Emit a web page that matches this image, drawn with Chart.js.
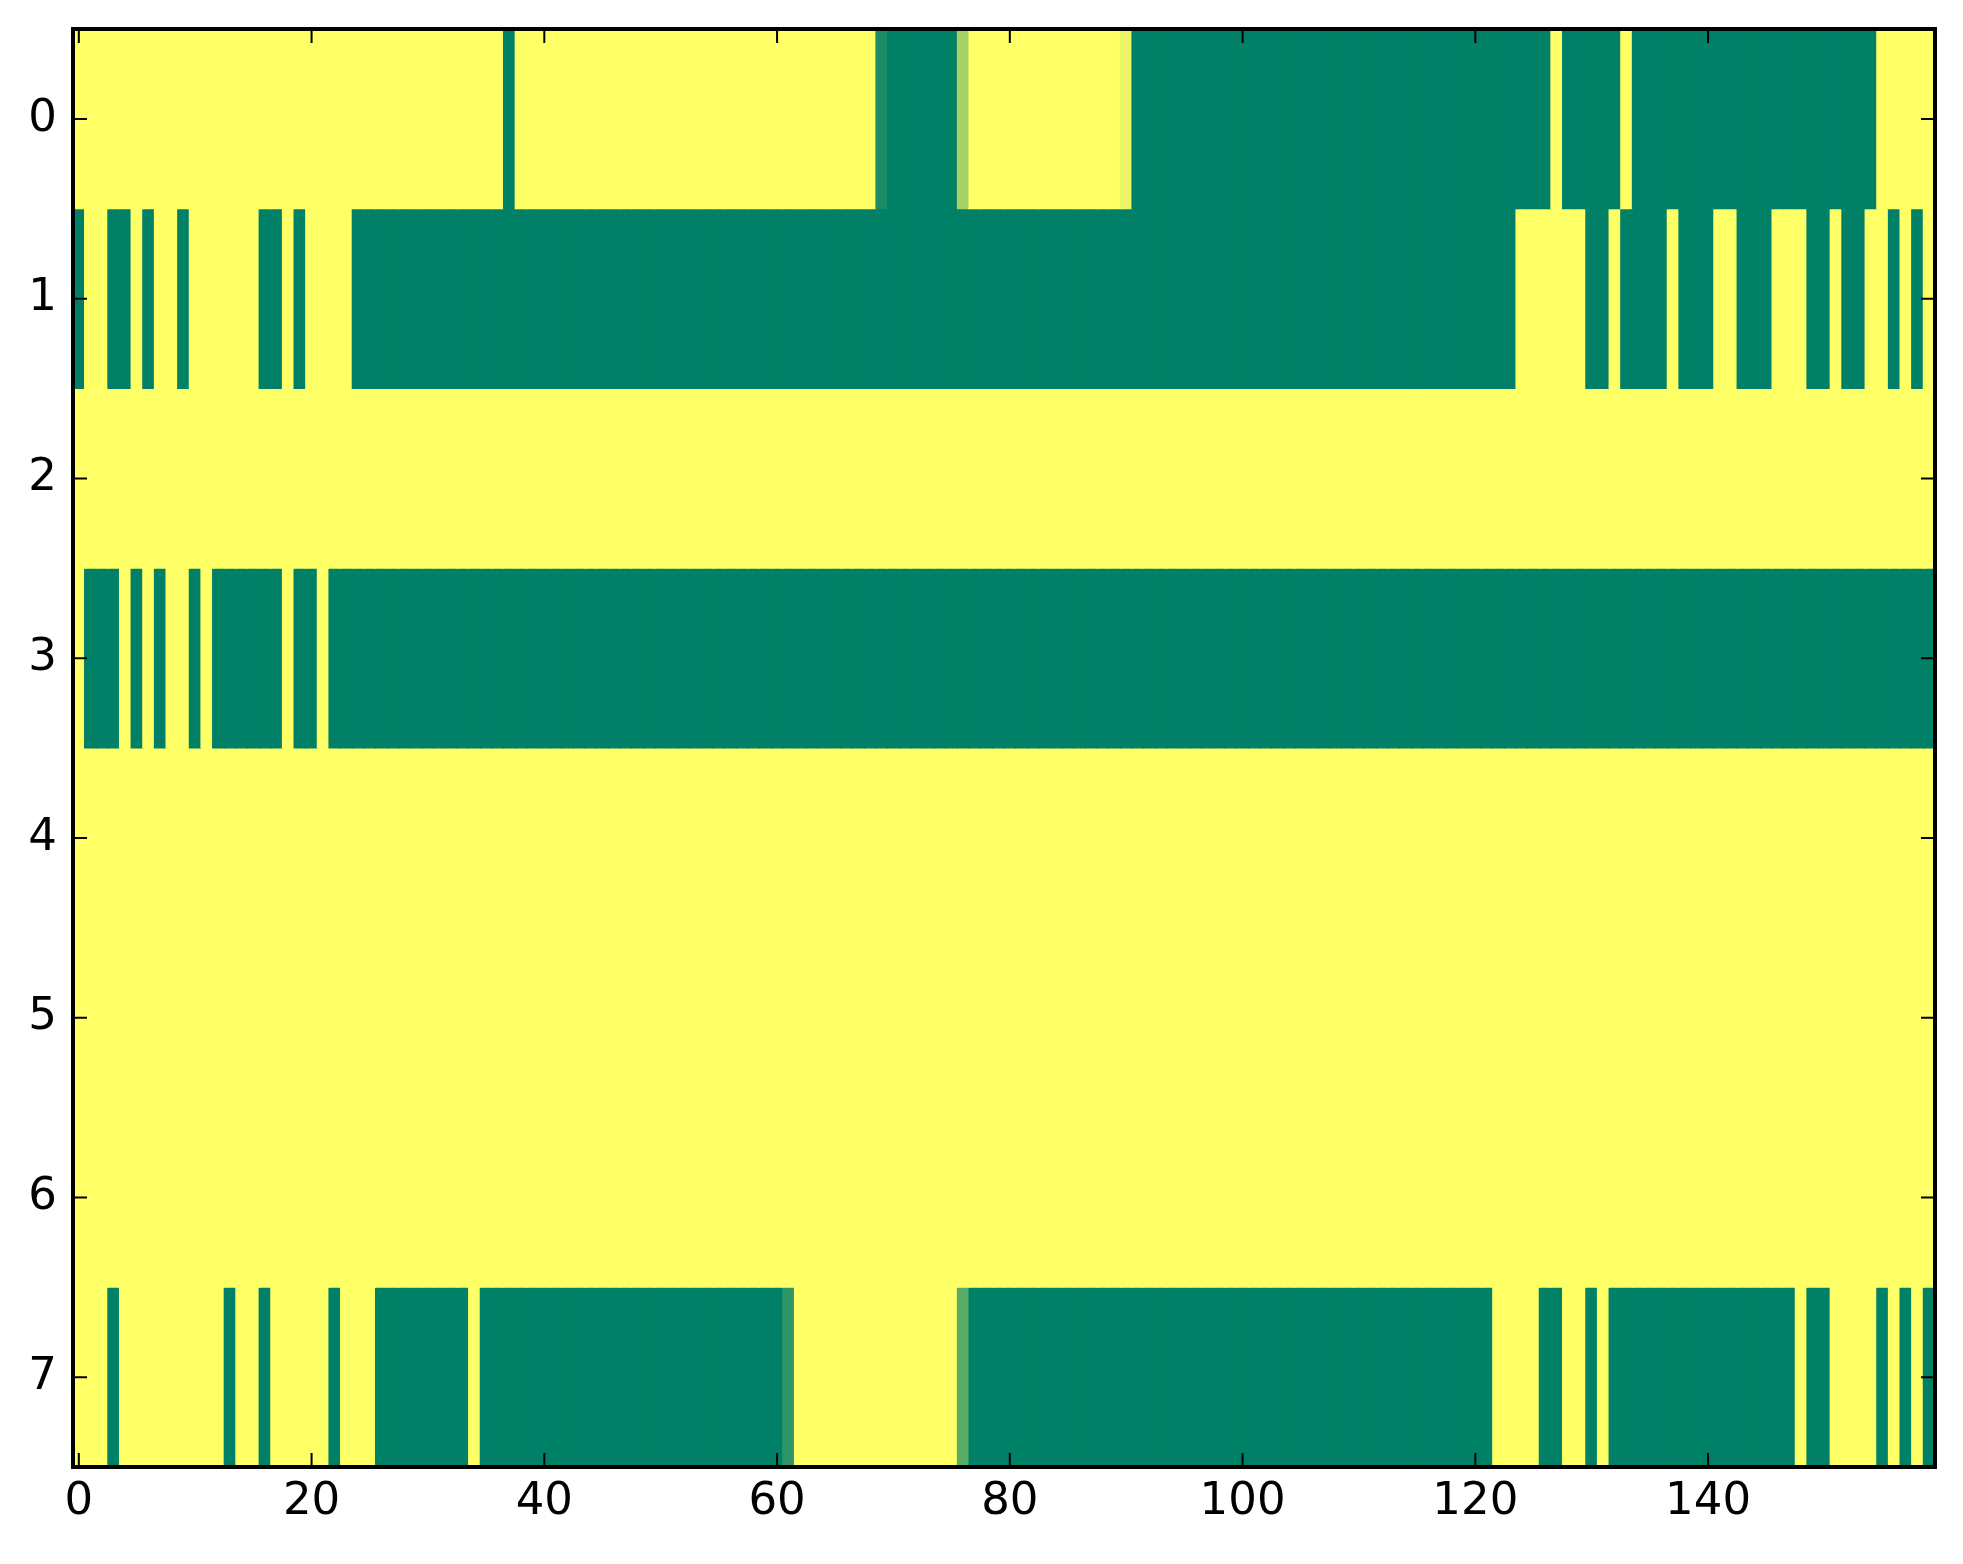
<!DOCTYPE html>
<html>
<head>
<meta charset="utf-8">
<script src="https://cdn.jsdelivr.net/npm/chart.js@4/dist/chart.umd.min.js"></script>
<style>
  html, body { margin: 0; padding: 0; background: #ffffff; }
  #c { display: block; }
</style>
</head>
<body>
<canvas id="c" width="1963" height="1564"></canvas>
<script>
// ---- data (0 = dark green, 1 = yellow) ----
const rowLabels = ['0', '1', '2', '3', '4', '5', '6', '7'];
const xTickValues = [0, 20, 40, 60, 80, 100, 120, 140];

const row0 = [
  1,1,1,1,1,1,1,1,1,1, 1,1,1,1,1,1,1,1,1,1,
  1,1,1,1,1,1,1,1,1,1, 1,1,1,1,1,1,1,0,1,1,
  1,1,1,1,1,1,1,1,1,1, 1,1,1,1,1,1,1,1,1,1,
  1,1,1,1,1,1,1,1,1,0.1, 0,0,0,0,0,0,0.65,1,1,1,
  1,1,1,1,1,1,1,1,1,1, 0.92,0,0,0,0,0,0,0,0,0,
  0,0,0,0,0,0,0,0,0,0, 0,0,0,0,0,0,0,0,0,0,
  0,0,0,0,0,0,0,1,0,0, 0,0,0,1,0,0,0,0,0,0,
  0,0,0,0,0,0,0,0,0,0, 0,0,0,0,0,1,1,1,1,1
];
const row1 = [
  0,1,1,0,0,1,0,1,1,0, 1,1,1,1,1,1,0,0,1,0,
  1,1,1,1,0,0,0,0,0,0, 0,0,0,0,0,0,0,0,0,0,
  0,0,0,0,0,0,0,0,0,0, 0,0,0,0,0,0,0,0,0,0,
  0,0,0,0,0,0,0,0,0,0, 0,0,0,0,0,0,0,0,0,0,
  0,0,0,0,0,0,0,0,0,0, 0,0,0,0,0,0,0,0,0,0,
  0,0,0,0,0,0,0,0,0,0, 0,0,0,0,0,0,0,0,0,0,
  0,0,0,0,1,1,1,1,1,1, 0,0,1,0,0,0,0,1,0,0,
  0,1,1,0,0,0,1,1,1,0, 0,1,0,0,1,1,0,1,0,1
];
const row2 = [
  1,1,1,1,1,1,1,1,1,1, 1,1,1,1,1,1,1,1,1,1,
  1,1,1,1,1,1,1,1,1,1, 1,1,1,1,1,1,1,1,1,1,
  1,1,1,1,1,1,1,1,1,1, 1,1,1,1,1,1,1,1,1,1,
  1,1,1,1,1,1,1,1,1,1, 1,1,1,1,1,1,1,1,1,1,
  1,1,1,1,1,1,1,1,1,1, 1,1,1,1,1,1,1,1,1,1,
  1,1,1,1,1,1,1,1,1,1, 1,1,1,1,1,1,1,1,1,1,
  1,1,1,1,1,1,1,1,1,1, 1,1,1,1,1,1,1,1,1,1,
  1,1,1,1,1,1,1,1,1,1, 1,1,1,1,1,1,1,1,1,1
];
const row3 = [
  1,0,0,0,1,0,1,0,1,1, 0,1,0,0,0,0,0,0,1,0,
  0,1,0,0,0,0,0,0,0,0, 0,0,0,0,0,0,0,0,0,0,
  0,0,0,0,0,0,0,0,0,0, 0,0,0,0,0,0,0,0,0,0,
  0,0,0,0,0,0,0,0,0,0, 0,0,0,0,0,0,0,0,0,0,
  0,0,0,0,0,0,0,0,0,0, 0,0,0,0,0,0,0,0,0,0,
  0,0,0,0,0,0,0,0,0,0, 0,0,0,0,0,0,0,0,0,0,
  0,0,0,0,0,0,0,0,0,0, 0,0,0,0,0,0,0,0,0,0,
  0,0,0,0,0,0,0,0,0,0, 0,0,0,0,0,0,0,0,0,0
];
const row4 = [
  1,1,1,1,1,1,1,1,1,1, 1,1,1,1,1,1,1,1,1,1,
  1,1,1,1,1,1,1,1,1,1, 1,1,1,1,1,1,1,1,1,1,
  1,1,1,1,1,1,1,1,1,1, 1,1,1,1,1,1,1,1,1,1,
  1,1,1,1,1,1,1,1,1,1, 1,1,1,1,1,1,1,1,1,1,
  1,1,1,1,1,1,1,1,1,1, 1,1,1,1,1,1,1,1,1,1,
  1,1,1,1,1,1,1,1,1,1, 1,1,1,1,1,1,1,1,1,1,
  1,1,1,1,1,1,1,1,1,1, 1,1,1,1,1,1,1,1,1,1,
  1,1,1,1,1,1,1,1,1,1, 1,1,1,1,1,1,1,1,1,1
];
const row5 = [
  1,1,1,1,1,1,1,1,1,1, 1,1,1,1,1,1,1,1,1,1,
  1,1,1,1,1,1,1,1,1,1, 1,1,1,1,1,1,1,1,1,1,
  1,1,1,1,1,1,1,1,1,1, 1,1,1,1,1,1,1,1,1,1,
  1,1,1,1,1,1,1,1,1,1, 1,1,1,1,1,1,1,1,1,1,
  1,1,1,1,1,1,1,1,1,1, 1,1,1,1,1,1,1,1,1,1,
  1,1,1,1,1,1,1,1,1,1, 1,1,1,1,1,1,1,1,1,1,
  1,1,1,1,1,1,1,1,1,1, 1,1,1,1,1,1,1,1,1,1,
  1,1,1,1,1,1,1,1,1,1, 1,1,1,1,1,1,1,1,1,1
];
const row6 = [
  1,1,1,1,1,1,1,1,1,1, 1,1,1,1,1,1,1,1,1,1,
  1,1,1,1,1,1,1,1,1,1, 1,1,1,1,1,1,1,1,1,1,
  1,1,1,1,1,1,1,1,1,1, 1,1,1,1,1,1,1,1,1,1,
  1,1,1,1,1,1,1,1,1,1, 1,1,1,1,1,1,1,1,1,1,
  1,1,1,1,1,1,1,1,1,1, 1,1,1,1,1,1,1,1,1,1,
  1,1,1,1,1,1,1,1,1,1, 1,1,1,1,1,1,1,1,1,1,
  1,1,1,1,1,1,1,1,1,1, 1,1,1,1,1,1,1,1,1,1,
  1,1,1,1,1,1,1,1,1,1, 1,1,1,1,1,1,1,1,1,1
];
const row7 = [
  1,1,1,0,1,1,1,1,1,1, 1,1,1,0,1,1,0,1,1,1,
  1,1,0,1,1,1,0,0,0,0, 0,0,0,0,1,0,0,0,0,0,
  0,0,0,0,0,0,0,0,0,0, 0,0,0,0,0,0,0,0,0,0,
  0,0.18,1,1,1,1,1,1,1,1, 1,1,1,1,1,1,0.35,0,0,0,
  0,0,0,0,0,0,0,0,0,0, 0,0,0,0,0,0,0,0,0,0,
  0,0,0,0,0,0,0,0,0,0, 0,0,0,0,0,0,0,0,0,0,
  0,0,1,1,1,1,0,0,1,1, 0,1,0,0,0,0,0,0,0,0,
  0,0,0,0,0,0,0,0,1,0, 0,1,1,1,1,0,1,0,1,0
];
const rows = [row0, row1, row2, row3, row4, row5, row6, row7];

// matplotlib "summer" colormap
function summer(v) {
  const r = Math.round(255 * v);
  const g = Math.round(255 * (0.5 + 0.5 * v));
  const b = Math.round(255 * 0.4);
  return 'rgb(' + r + ',' + g + ',' + b + ')';
}

const datasets = rows.map((vals, r) => ({
  label: rowLabels[r],
  data: vals.map((v, i) => ({ x: [i - 0.5, i + 0.5], y: rowLabels[r] })),
  backgroundColor: vals.map(summer),
  borderWidth: 0,
  inflateAmount: 0.6,
  barPercentage: 1.0,
  categoryPercentage: 1.0,
  grouped: false
}));

const FONT = '"DejaVu Sans", "Liberation Sans", sans-serif';
const TICK_LEN = 14;

const framePlugin = {
  id: 'framePlugin',
  afterDraw(chart) {
    const ctx = chart.ctx;
    const a = chart.chartArea;
    const xs = chart.scales.x;
    const ys = chart.scales.y;
    ctx.save();
    ctx.strokeStyle = '#000';
    ctx.lineWidth = 2;
    ctx.beginPath();
    xs.ticks.forEach((t, i) => {
      const px = xs.getPixelForTick(i);
      ctx.moveTo(px, a.bottom); ctx.lineTo(px, a.bottom - TICK_LEN);
      ctx.moveTo(px, a.top); ctx.lineTo(px, a.top + TICK_LEN);
    });
    ys.ticks.forEach((t, i) => {
      const py = ys.getPixelForTick(i);
      ctx.moveTo(a.left, py); ctx.lineTo(a.left + TICK_LEN, py);
      ctx.moveTo(a.right, py); ctx.lineTo(a.right - TICK_LEN, py);
    });
    ctx.stroke();
    ctx.lineWidth = 4;
    ctx.strokeRect(a.left, a.top, a.right - a.left, a.bottom - a.top);
    ctx.restore();
  }
};

new Chart(document.getElementById('c'), {
  type: 'bar',
  data: { labels: rowLabels, datasets: datasets },
  options: {
    indexAxis: 'y',
    responsive: false,
    devicePixelRatio: 1,
    animation: false,
    layout: { padding: { top: 29, right: 28, left: 0, bottom: 0 } },
    plugins: { legend: { display: false }, tooltip: { enabled: false } },
    scales: {
      x: {
        type: 'linear',
        min: -0.5,
        max: 159.5,
        afterBuildTicks: (scale) => { scale.ticks = xTickValues.map(v => ({ value: v })); },
        afterFit: (scale) => { scale.height = 97; scale.paddingLeft = 0; scale.paddingRight = 0; },
        grid: { display: false },
        border: { display: false },
        ticks: {
          color: '#000',
          font: { family: FONT, size: 45 },
          padding: 0,
          maxRotation: 0,
          autoSkip: false
        }
      },
      y: {
        type: 'category',
        labels: rowLabels,
        offset: true,
        afterFit: (scale) => { scale.width = 73; scale.paddingTop = 0; scale.paddingBottom = 0; },
        grid: { display: false },
        border: { display: false },
        ticks: {
          color: '#000',
          font: { family: FONT, size: 45 },
          padding: 8,
          autoSkip: false
        }
      }
    }
  },
  plugins: [framePlugin]
});
</script>
</body>
</html>
